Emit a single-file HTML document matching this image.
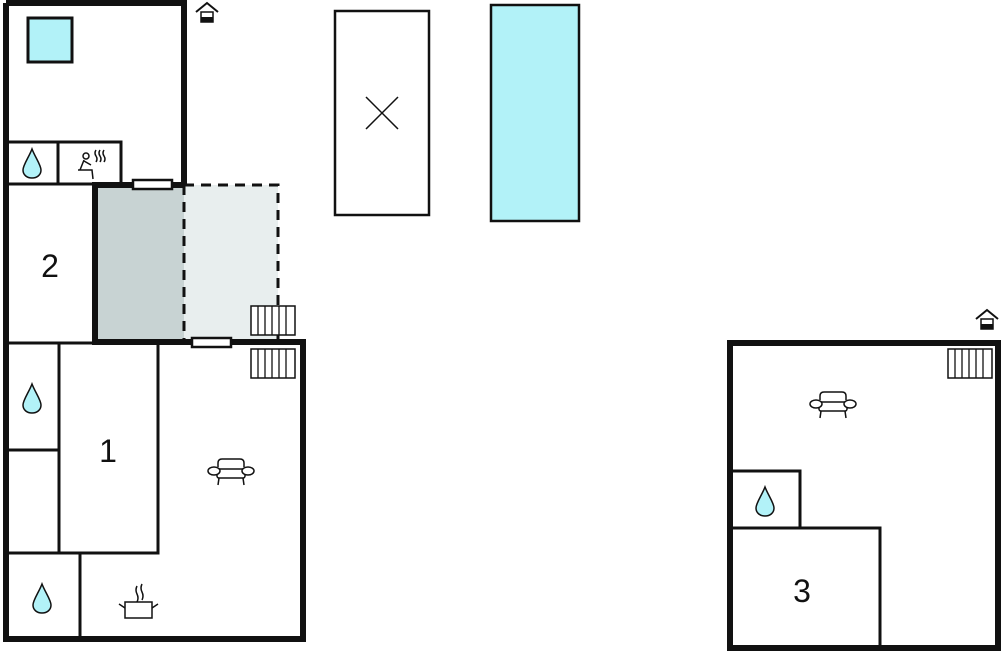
<!DOCTYPE html>
<html><head><meta charset="utf-8"><style>body{margin:0;background:#fff}svg{display:block}text{font-family:"Liberation Sans",sans-serif;font-size:32px;fill:#111}</style></head><body>
<svg width="1002" height="652" viewBox="0 0 1002 652" xmlns="http://www.w3.org/2000/svg">
<defs>
<g id="drop"><path d="M0,-14 C3,-6 9,2 9,7 C9,12 5,15 0,15 C-5,15 -9,12 -9,7 C-9,2 -3,-6 0,-14Z" fill="#b2f2f8" stroke="#111" stroke-width="1.5"/></g>
<g id="rad"><rect x="0" y="0" width="44" height="29" fill="#fff" stroke="#111" stroke-width="1.5"/><path d="M7,0V29M14,0V29M21,0V29M28,0V29M35,0V29" stroke="#111" stroke-width="1.3"/></g>
<g id="sofa" fill="#fff" stroke="#111" stroke-width="1.5"><path d="M-13,-5 V-9 Q-13,-13 -9,-13 H9 Q13,-13 13,-9 V-5"/><rect x="-14" y="-3" width="28" height="9" rx="2"/><ellipse cx="-17" cy="-1" rx="6" ry="4"/><ellipse cx="17" cy="-1" rx="6" ry="4"/><path d="M-12,6 L-13,13 M12,6 L13,13"/></g>
<g id="house"><path d="M-11,0 L0,-9 L11,0" fill="none" stroke="#111" stroke-width="2"/><rect x="-6" y="0" width="12" height="10" fill="#fff" stroke="#111" stroke-width="1.5"/><rect x="-6" y="5" width="12" height="5" fill="#111"/></g>
</defs>
<!-- top building -->
<rect x="28" y="18" width="44" height="44" fill="#b2f2f8" stroke="#111" stroke-width="3"/>
<rect x="184" y="185" width="94" height="155" fill="#e8eeee"/>
<rect x="95" y="186" width="89" height="154" fill="#c8d3d3"/>
<path d="M184,185 H278 V340" fill="none" stroke="#111" stroke-width="3" stroke-dasharray="10,7"/>
<path d="M184,185 V340" stroke="#111" stroke-width="3" stroke-dasharray="10,7"/>
<path d="M7,142 H121 V184 M58,142 V184" fill="none" stroke="#111" stroke-width="3"/>
<use href="#drop" x="32" y="163"/>
<g stroke="#111" stroke-width="1.5" fill="none"><circle cx="86" cy="156" r="3"/><path d="M84,160 L80,170 H92 L93,179 M84,161 L91,165 M78,170 H86 M96,150 q-2,3 0,6 q2,3 0,6 M100,150 q-2,3 0,6 q2,3 0,6 M104,150 q-2,3 0,6 q2,3 0,6"/></g>
<path d="M6,3 H184 V186" fill="none" stroke="#111" stroke-width="6"/>
<path d="M6,3 V640" stroke="#111" stroke-width="6"/>
<path d="M7,184 H92" stroke="#111" stroke-width="3"/>
<path d="M95,342 V185 H184" fill="none" stroke="#111" stroke-width="6"/>
<path d="M92,342 H303 V639 H3" fill="none" stroke="#111" stroke-width="6"/>
<path d="M7,343 H92" stroke="#111" stroke-width="3"/>
<rect x="133" y="180" width="39" height="9" fill="#fff" stroke="#111" stroke-width="2.5"/>
<rect x="192" y="338" width="39" height="9" fill="#fff" stroke="#111" stroke-width="2.5"/>
<use href="#rad" x="251" y="306"/>
<use href="#rad" x="251" y="349"/>
<path d="M59,343 V553 H158 V343 M7,450 H59 M7,553 H59 M80,553 V637" fill="none" stroke="#111" stroke-width="3"/>
<use href="#drop" x="32" y="398"/>
<use href="#drop" x="42" y="598"/>
<use href="#sofa" x="231" y="472"/>
<g stroke="#111" stroke-width="1.5" fill="none"><rect x="125" y="602" width="27" height="16" fill="#fff"/><path d="M119,604 L125,608 M158,604 L152,608 M137,586 q-2,4 0,8 q2,4 0,8 M142,584 q-2,4 0,8 q2,4 0,8" /></g>
<use href="#house" x="207" y="12"/>
<text x="50" y="277" text-anchor="middle">2</text>
<text x="108" y="462" text-anchor="middle">1</text>
<!-- middle -->
<rect x="335" y="11" width="94" height="204" fill="#fff" stroke="#111" stroke-width="2.5"/>
<path d="M366,97 L398,129 M398,97 L366,129" stroke="#111" stroke-width="1.5"/>
<rect x="491" y="5" width="88" height="216" fill="#b2f2f8" stroke="#111" stroke-width="2.5"/>
<!-- right building -->
<path d="M731,471 H800 V528 M731,528 H880 V648" fill="none" stroke="#111" stroke-width="3"/>
<rect x="730" y="343" width="268" height="305" fill="none" stroke="#111" stroke-width="6"/>
<use href="#rad" x="948" y="349"/>
<use href="#sofa" x="833" y="405"/>
<use href="#drop" x="765" y="501"/>
<use href="#house" x="987" y="319"/>
<text x="802" y="602" text-anchor="middle">3</text>
</svg>
</body></html>
